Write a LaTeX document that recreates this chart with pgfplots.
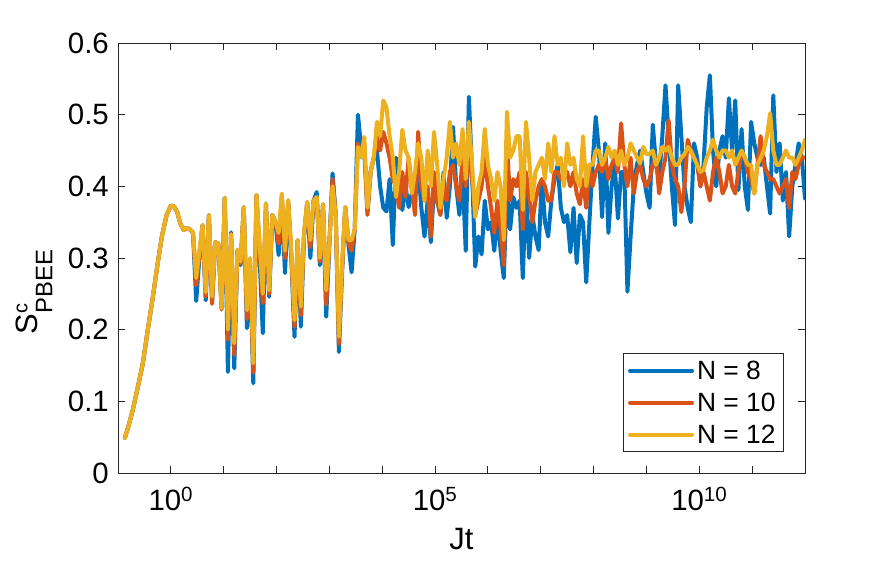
\documentclass[border=0pt]{standalone}
\usepackage{fontspec}
\setmainfont{Liberation Sans}
\usepackage{pgfplots}
\usepackage{pgfplotstable}
\pgfplotsset{compat=1.18}
\definecolor{matblue}{RGB}{0,114,189}
\definecolor{matorange}{RGB}{217,83,25}
\definecolor{matyellow}{RGB}{237,177,32}
\definecolor{axgrey}{RGB}{38,38,38}
\newcommand\tickfont{\fontsize{29.5}{33}\selectfont}
\newcommand\legfont{\fontsize{26.5}{30}\selectfont}
\newcommand\labfont{\fontsize{31}{35}\selectfont}

% lt = log10(Jt); b: N=8, o: N=10, y: N=12
\pgfplotstableread{
lt b o y
-0.87 0.049 0.049 0.049
-0.80 0.066 0.066 0.066
-0.72 0.088 0.088 0.088
-0.63 0.118 0.118 0.118
-0.53 0.153 0.153 0.153
-0.44 0.198 0.198 0.198
-0.34 0.246 0.246 0.246
-0.25 0.292 0.292 0.292
-0.17 0.330 0.330 0.330
-0.08 0.360 0.360 0.360
0.00 0.373 0.373 0.373
0.06 0.372 0.372 0.372
0.12 0.364 0.364 0.364
0.18 0.348 0.348 0.348
0.24 0.339 0.339 0.339
0.30 0.342 0.342 0.342
0.36 0.340 0.340 0.340
0.42 0.335 0.335 0.336
0.48 0.240 0.262 0.272
0.54 0.300 0.305 0.310
0.60 0.346 0.346 0.346
0.66 0.241 0.246 0.252
0.72 0.360 0.360 0.360
0.78 0.240 0.236 0.246
0.84 0.322 0.322 0.322
0.90 0.318 0.320 0.320
0.96 0.232 0.228 0.230
1.02 0.384 0.384 0.384
1.08 0.141 0.186 0.200
1.14 0.336 0.334 0.333
1.20 0.146 0.165 0.181
1.26 0.310 0.310 0.312
1.32 0.290 0.292 0.295
1.38 0.371 0.371 0.371
1.44 0.202 0.215 0.227
1.50 0.290 0.295 0.300
1.56 0.125 0.140 0.153
1.62 0.388 0.388 0.388
1.68 0.300 0.310 0.320
1.74 0.195 0.237 0.250
1.80 0.376 0.376 0.376
1.86 0.246 0.250 0.255
1.92 0.360 0.360 0.360
1.98 0.350 0.350 0.350
2.04 0.304 0.320 0.335
2.10 0.382 0.386 0.390
2.16 0.279 0.300 0.310
2.22 0.378 0.380 0.381
2.28 0.300 0.305 0.310
2.34 0.190 0.204 0.213
2.40 0.325 0.325 0.325
2.46 0.204 0.220 0.232
2.52 0.330 0.332 0.335
2.58 0.376 0.378 0.378
2.64 0.300 0.315 0.325
2.70 0.380 0.380 0.380
2.76 0.392 0.385 0.385
2.82 0.290 0.295 0.300
2.88 0.375 0.375 0.375
2.94 0.218 0.235 0.255
3.00 0.320 0.320 0.322
3.06 0.418 0.410 0.400
3.12 0.360 0.360 0.360
3.18 0.169 0.180 0.190
3.24 0.280 0.285 0.290
3.30 0.371 0.371 0.371
3.36 0.320 0.322 0.325
3.42 0.280 0.310 0.325
3.48 0.340 0.340 0.340
3.54 0.500 0.460 0.455
3.60 0.455 0.445 0.440
3.66 0.450 0.460 0.469
3.72 0.365 0.360 0.370
3.78 0.420 0.420 0.420
3.84 0.440 0.440 0.440
3.90 0.450 0.470 0.490
3.96 0.400 0.450 0.470
4.02 0.370 0.476 0.520
4.08 0.365 0.460 0.510
4.14 0.410 0.440 0.470
4.20 0.318 0.410 0.440
4.26 0.440 0.400 0.385
4.32 0.410 0.370 0.420
4.38 0.367 0.420 0.479
4.44 0.400 0.385 0.450
4.50 0.371 0.440 0.440
4.56 0.390 0.400 0.390
4.62 0.400 0.360 0.420
4.68 0.430 0.476 0.460
4.74 0.370 0.400 0.440
4.80 0.330 0.380 0.380
4.86 0.380 0.400 0.450
4.92 0.322 0.330 0.400
4.98 0.400 0.420 0.476
5.04 0.380 0.380 0.430
5.10 0.360 0.360 0.370
5.16 0.420 0.400 0.410
5.22 0.356 0.380 0.440
5.28 0.400 0.420 0.490
5.34 0.483 0.430 0.440
5.40 0.400 0.400 0.460
5.46 0.360 0.380 0.430
5.52 0.420 0.440 0.480
5.58 0.310 0.400 0.410
5.64 0.525 0.450 0.490
5.70 0.420 0.410 0.430
5.76 0.288 0.360 0.357
5.82 0.330 0.380 0.400
5.88 0.305 0.400 0.420
5.94 0.380 0.440 0.480
6.00 0.340 0.400 0.430
6.06 0.350 0.370 0.410
6.12 0.310 0.335 0.380
6.18 0.360 0.380 0.420
6.24 0.310 0.340 0.400
6.30 0.272 0.290 0.325
6.36 0.400 0.460 0.504
6.42 0.340 0.380 0.440
6.48 0.385 0.410 0.450
6.54 0.370 0.400 0.470
6.60 0.380 0.420 0.470
6.66 0.272 0.340 0.367
6.72 0.400 0.420 0.490
6.78 0.300 0.390 0.440
6.84 0.360 0.350 0.380
6.90 0.330 0.380 0.420
6.96 0.311 0.400 0.430
7.02 0.410 0.410 0.440
7.08 0.350 0.400 0.410
7.14 0.330 0.380 0.460
7.20 0.380 0.380 0.420
7.26 0.410 0.420 0.470
7.32 0.430 0.420 0.430
7.38 0.370 0.410 0.440
7.44 0.350 0.410 0.400
7.50 0.360 0.420 0.460
7.56 0.308 0.400 0.430
7.62 0.370 0.420 0.440
7.68 0.293 0.390 0.410
7.74 0.360 0.375 0.400
7.80 0.350 0.410 0.470
7.86 0.266 0.370 0.400
7.92 0.350 0.430 0.430
7.98 0.430 0.400 0.430
8.04 0.497 0.420 0.450
8.10 0.450 0.430 0.450
8.16 0.357 0.420 0.430
8.22 0.460 0.440 0.440
8.28 0.335 0.410 0.455
8.34 0.400 0.430 0.440
8.40 0.430 0.440 0.450
8.46 0.355 0.420 0.430
8.52 0.420 0.488 0.450
8.58 0.420 0.430 0.430
8.64 0.253 0.400 0.440
8.70 0.330 0.440 0.460
8.76 0.400 0.390 0.450
8.82 0.430 0.420 0.440
8.88 0.450 0.430 0.432
8.94 0.420 0.410 0.455
9.00 0.390 0.400 0.445
9.06 0.370 0.410 0.445
9.12 0.486 0.430 0.450
9.18 0.430 0.440 0.430
9.24 0.410 0.390 0.440
9.30 0.470 0.420 0.455
9.36 0.541 0.440 0.450
9.42 0.470 0.492 0.455
9.48 0.400 0.430 0.440
9.54 0.346 0.410 0.430
9.60 0.541 0.400 0.430
9.66 0.470 0.364 0.440
9.72 0.400 0.400 0.445
9.78 0.370 0.465 0.455
9.84 0.350 0.450 0.450
9.90 0.460 0.440 0.440
9.96 0.440 0.430 0.430
10.02 0.400 0.400 0.420
10.08 0.430 0.420 0.423
10.14 0.510 0.400 0.440
10.20 0.555 0.380 0.450
10.26 0.450 0.420 0.465
10.32 0.400 0.440 0.450
10.38 0.450 0.420 0.440
10.44 0.470 0.390 0.450
10.50 0.440 0.400 0.450
10.56 0.523 0.430 0.440
10.62 0.450 0.400 0.450
10.68 0.520 0.390 0.430
10.74 0.395 0.420 0.440
10.80 0.480 0.450 0.450
10.86 0.400 0.440 0.440
10.92 0.367 0.420 0.430
10.98 0.490 0.410 0.430
11.04 0.460 0.390 0.390
11.10 0.440 0.430 0.430
11.16 0.430 0.470 0.440
11.22 0.440 0.430 0.450
11.28 0.400 0.420 0.470
11.34 0.362 0.410 0.502
11.40 0.527 0.410 0.450
11.46 0.420 0.400 0.430
11.52 0.460 0.390 0.430
11.58 0.380 0.400 0.440
11.64 0.420 0.410 0.450
11.70 0.330 0.370 0.440
11.76 0.400 0.420 0.440
11.82 0.430 0.410 0.430
11.88 0.460 0.430 0.440
11.94 0.440 0.440 0.450
12.00 0.383 0.440 0.465
}\datatable

\begin{document}
\begin{tikzpicture}
\path[use as bounding box] (-118bp,-92bp) rectangle (772bp,473bp);
\begin{axis}[
  at={(0,0)}, anchor=south west,
  scale only axis, width=687bp, height=430bp,
  xmin=-1, xmax=12, ymin=0, ymax=0.6,
  xtick={0,5,10},
  xticklabels={10\textsuperscript{0},10\textsuperscript{5},10\textsuperscript{10}},
  minor xtick={-1,0,...,12},
  ytick={0,0.1,0.2,0.3,0.4,0.5,0.6},
  yticklabels={0,0.1,0.2,0.3,0.4,0.5,0.6},
  tick align=inside,
  major tick length=7bp, minor tick length=7bp,
  axis line style={draw=axgrey, line width=0.9bp},
  every tick/.style={draw=axgrey, line width=0.9bp},
  ticklabel style={font=\tickfont, text=black},
  yticklabel style={inner sep=0pt, xshift=-9bp},
  xticklabel style={inner sep=0pt, yshift=-14bp},
  xlabel={Jt},
  xlabel style={yshift=-14bp},
  ylabel={S\makebox[0pt][l]{\raisebox{10bp}{\fontsize{20}{22}\selectfont c}}\raisebox{-15bp}{\fontsize{24}{26}\selectfont PBEE}},
  ylabel style={yshift=12bp, xshift=-34bp},
  label style={font=\labfont},
  legend cell align=left,
  legend style={at={(1,0)}, anchor=south east, xshift=-21bp, yshift=21bp,
    draw=axgrey, line width=0.9bp, fill=white, font=\legfont,
    inner xsep=5bp, inner ysep=4bp, row sep=6bp,
    nodes={inner sep=3bp}},
  legend image code/.code={\draw[#1] (0bp,0bp) -- (62bp,0bp);},
  every axis plot/.append style={line width=4bp, line join=round, line cap=round},
]
\addplot[matblue] table[x=lt, y=b]{\datatable};
\addlegendentry{N = 8}
\addplot[matorange] table[x=lt, y=o]{\datatable};
\addlegendentry{N = 10}
\addplot[matyellow] table[x=lt, y=y]{\datatable};
\addlegendentry{N = 12}
\end{axis}
\end{tikzpicture}
\end{document}
